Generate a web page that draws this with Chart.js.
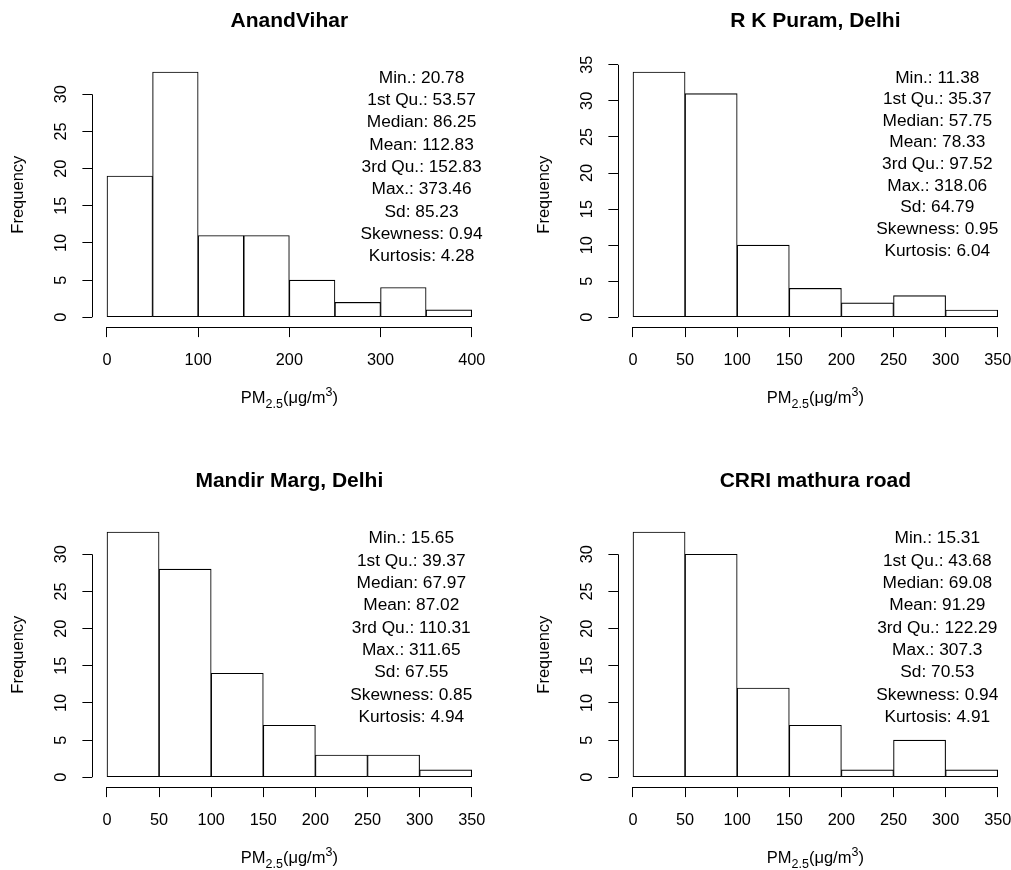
<!DOCTYPE html>
<html>
<head>
<meta charset="utf-8">
<script src="https://cdn.jsdelivr.net/npm/chart.js@4.4.0/dist/chart.umd.min.js"></script>
<style>
  html, body { margin: 0; padding: 0; background: #fff; width: 1011px; height: 870px; overflow: hidden; }
  .panel { position: absolute; }
</style>
</head>
<body>
<canvas id="anandChart" class="panel" width="505" height="410" style="left:0px;top:0px"></canvas>
<canvas id="rkChart" class="panel" width="487" height="410" style="left:526px;top:0px"></canvas>
<canvas id="mandirChart" class="panel" width="505" height="410" style="left:0px;top:460px"></canvas>
<canvas id="crriChart" class="panel" width="487" height="410" style="left:526px;top:460px"></canvas>
<script>
// 히스토그램 데이터 (구간 폭 50)
const BIN_WIDTH = 50;
const anandCounts = [19, 33, 11, 11, 5, 2, 4, 1];
const rkCounts = [34, 31, 10, 4, 2, 3, 1];
const mandirCounts = [33, 28, 14, 7, 3, 3, 1];
const crriCounts = [33, 30, 12, 7, 1, 5, 1];

// 요약 통계
const statLabels = ['Min.', '1st Qu.', 'Median', 'Mean', '3rd Qu.', 'Max.', 'Sd', 'Skewness', 'Kurtosis'];
const anandStats = ['20.78', '53.57', '86.25', '112.83', '152.83', '373.46', '85.23', '0.94', '4.28'];
const rkStats = ['11.38', '35.37', '57.75', '78.33', '97.52', '318.06', '64.79', '0.95', '6.04'];
const mandirStats = ['15.65', '39.37', '67.97', '87.02', '110.31', '311.65', '67.55', '0.85', '4.94'];
const crriStats = ['15.31', '43.68', '69.08', '91.29', '122.29', '307.3', '70.53', '0.94', '4.91'];

// 축 눈금
const xTicks400 = [0, 100, 200, 300, 400];
const xTicks350 = [0, 50, 100, 150, 200, 250, 300, 350];
const yTicks30 = [0, 5, 10, 15, 20, 25, 30];
const yTicks35 = [0, 5, 10, 15, 20, 25, 30, 35];

const FONT = '"Liberation Sans", Arial, sans-serif';
const TICK_SIZE = 16.3;
const LABEL_SIZE = 16.5;
const STAT_SIZE = 17.3;

// 픽셀 정렬 (1px 선)
const crisp = (v) => Math.floor(v) + 0.5;

// 라벨 때문에 생기는 스케일 여백 제거
const noScalePadding = (s) => {
  s.paddingLeft = 0;
  s.paddingRight = 0;
  s.paddingTop = 0;
  s.paddingBottom = 0;
};

// R 스타일 축선, x축 제목, 통계 텍스트
const rStylePlugin = {
  id: 'rStyle',
  afterDraw(chart, args, opts) {
    const ctx = chart.ctx;
    const xs = chart.scales.x;
    const ys = chart.scales.y;
    const area = chart.chartArea;
    ctx.save();
    ctx.strokeStyle = '#000';
    ctx.lineWidth = 1;

    // 축선 (첫 눈금 ~ 마지막 눈금)
    ctx.beginPath();
    const xl = crisp(area.left);
    ctx.moveTo(xl, ys.getPixelForValue(opts.yTicks[0]));
    ctx.lineTo(xl, ys.getPixelForValue(opts.yTicks[opts.yTicks.length - 1]));
    const yb = crisp(area.bottom);
    ctx.moveTo(xs.getPixelForValue(opts.xTicks[0]), yb);
    ctx.lineTo(xs.getPixelForValue(opts.xTicks[opts.xTicks.length - 1]), yb);
    ctx.stroke();

    // 통계 텍스트
    ctx.fillStyle = '#000';
    ctx.font = STAT_SIZE + 'px ' + FONT;
    ctx.textAlign = 'center';
    ctx.textBaseline = 'middle';
    const sx = xs.getPixelForValue(opts.statX);
    statLabels.forEach((label, i) => {
      const sy = ys.getPixelForValue(opts.statY - 3 * i);
      ctx.fillText(label + ': ' + opts.stats[i], sx, sy);
    });

    // x축 제목: PM2.5(μg/m3)
    const parts = [
      { t: 'PM', size: LABEL_SIZE, dy: 0 },
      { t: '2.5', size: 12.5, dy: 5 },
      { t: '(\u03bcg/m', size: LABEL_SIZE, dy: 0 },
      { t: '3', size: 12.5, dy: -7.5 },
      { t: ')', size: LABEL_SIZE, dy: 0 },
    ];
    ctx.textAlign = 'left';
    ctx.textBaseline = 'alphabetic';
    let total = 0;
    parts.forEach((p) => {
      ctx.font = p.size + 'px ' + FONT;
      p.w = ctx.measureText(p.t).width;
      total += p.w;
    });
    let px = (area.left + area.right) / 2 - total / 2;
    const base = area.bottom + 76;
    parts.forEach((p) => {
      ctx.font = p.size + 'px ' + FONT;
      ctx.fillText(p.t, px, base + p.dy);
      px += p.w;
    });
    ctx.restore();
  },
};

function makeHistogram(canvasId, title, counts, xTicks, yTicks, stats, statX, statY, padRight) {
  const range = counts.length * BIN_WIDTH;
  const maxCount = Math.max(...counts);
  const points = counts.map((c, i) => ({ x: i * BIN_WIDTH + BIN_WIDTH / 2, y: c }));

  const tickGrid = {
    display: true,
    drawOnChartArea: false,
    drawTicks: true,
    tickLength: 10,
    color: '#000',
    lineWidth: 1,
    offset: false,
  };

  return new Chart(document.getElementById(canvasId), {
    type: 'bar',
    data: {
      datasets: [
        {
          data: points,
          backgroundColor: '#fff',
          borderColor: '#000',
          borderWidth: 1.1,
          borderSkipped: false,
          barPercentage: 1,
          categoryPercentage: 1,
        },
      ],
    },
    options: {
      responsive: false,
      animation: false,
      layout: { padding: { left: 0, right: padRight, top: 0, bottom: 0 } },
      plugins: {
        legend: { display: false },
        tooltip: { enabled: false },
        title: {
          display: true,
          text: title,
          fullSize: false,
          color: '#000',
          font: { family: FONT, size: 21, weight: 'bold' },
          padding: { top: 8.7, bottom: 28.3 },
        },
        rStyle: { xTicks, yTicks, stats, statX, statY },
      },
      scales: {
        x: {
          type: 'linear',
          offset: false,
          min: -0.04 * range,
          max: 1.04 * range,
          afterBuildTicks: (s) => {
            s.ticks = xTicks.map((v) => ({ value: v }));
          },
          afterFit: (s) => {
            s.height = 82.9;
            noScalePadding(s);
          },
          grid: tickGrid,
          border: { display: false },
          ticks: {
            color: '#000',
            font: { family: FONT, size: TICK_SIZE },
            padding: 14,
            maxRotation: 0,
            autoSkip: false,
            callback: (v) => String(v),
          },
        },
        y: {
          type: 'linear',
          min: -0.04 * maxCount,
          max: 1.04 * maxCount,
          afterBuildTicks: (s) => {
            s.ticks = yTicks.map((v) => ({ value: v }));
          },
          afterFit: (s) => {
            s.width = 92.4;
            noScalePadding(s);
          },
          grid: tickGrid,
          border: { display: false },
          ticks: {
            color: '#000',
            font: { family: FONT, size: TICK_SIZE },
            padding: 12,
            minRotation: 90,
            maxRotation: 90,
            crossAlign: 'center',
            autoSkip: false,
            callback: (v) => String(v),
          },
          title: {
            display: true,
            text: 'Frequency',
            color: '#000',
            font: { family: FONT, size: LABEL_SIZE },
            padding: { top: 8.4, bottom: 0 },
          },
        },
      },
    },
    plugins: [rStylePlugin],
  });
}

makeHistogram('anandChart', 'AnandVihar', anandCounts, xTicks400, yTicks30, anandStats, 345, 32.2, 18.7);
makeHistogram('rkChart', 'R K Puram, Delhi', rkCounts, xTicks350, yTicks35, rkStats, 292, 33.2, 0.7);
makeHistogram('mandirChart', 'Mandir Marg, Delhi', mandirCounts, xTicks350, yTicks30, mandirStats, 292, 32.1, 18.7);
makeHistogram('crriChart', 'CRRI mathura road', crriCounts, xTicks350, yTicks30, crriStats, 292, 32.1, 0.7);
</script>
</body>
</html>
